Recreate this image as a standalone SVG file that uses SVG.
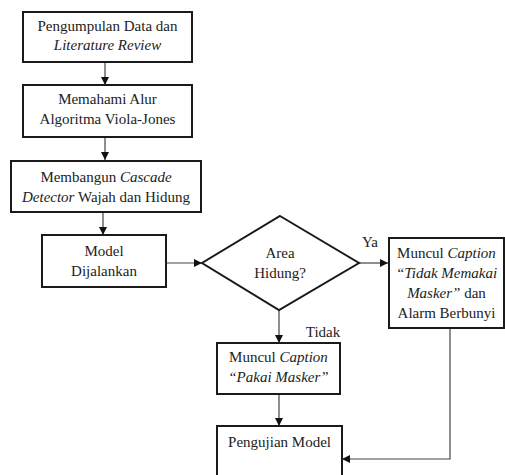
<svg xmlns="http://www.w3.org/2000/svg" width="505" height="475" viewBox="0 0 505 475">
<style>
.box{fill:#fff;stroke:#1a1a1a;stroke-width:2}
.c{fill:none;stroke:#444;stroke-width:1.2}
</style>
<defs>
<marker id="ah" viewBox="0 0 10 10" refX="10" refY="5" markerWidth="8" markerHeight="8" markerUnits="userSpaceOnUse" orient="auto">
<path d="M0,0 L10,5 L0,10 z" fill="#111"/>
</marker>
</defs>
<rect width="505" height="475" fill="#fff"/>
<g id="connectors">
<line class="c" x1="105" y1="62" x2="105" y2="85" marker-end="url(#ah)"/>
<line class="c" x1="105" y1="137" x2="105" y2="160" marker-end="url(#ah)"/>
<line class="c" x1="103" y1="212" x2="103" y2="235" marker-end="url(#ah)"/>
<line class="c" x1="166" y1="263" x2="202" y2="263" marker-end="url(#ah)"/>
<line class="c" x1="359" y1="263" x2="388" y2="263" marker-end="url(#ah)"/>
<line class="c" x1="279" y1="310" x2="279" y2="343" marker-end="url(#ah)"/>
<line class="c" x1="279" y1="394" x2="279" y2="426" marker-end="url(#ah)"/>
<polyline class="c" points="450,328 450,459 342,459" marker-end="url(#ah)"/>
</g>
<g font-family="Liberation Serif, serif" font-size="15" fill="#222" text-anchor="middle">
<g id="n1">
<rect class="box" x="23" y="12" width="169" height="50"/>
<text x="107.5" y="31">Pengumpulan Data dan</text>
<text x="107.5" y="50" font-style="italic">Literature Review</text>
</g>
<g id="n2">
<rect class="box" x="23" y="85" width="169" height="52"/>
<text x="107.5" y="104">Memahami Alur</text>
<text x="107.5" y="124">Algoritma Viola-Jones</text>
</g>
<g id="n3">
<rect class="box" x="11" y="161" width="190" height="51"/>
<text x="106" y="182">Membangun <tspan font-style="italic">Cascade</tspan></text>
<text x="106" y="202"><tspan font-style="italic">Detector</tspan> Wajah dan Hidung</text>
</g>
<g id="n4">
<rect class="box" x="42" y="235" width="124" height="52"/>
<text x="104" y="256">Model</text>
<text x="104" y="276">Dijalankan</text>
</g>
<g id="n5">
<polygon class="box" points="280,216 359,263 279,310 202,263"/>
<text x="280" y="258">Area</text>
<text x="280" y="278">Hidung?</text>
</g>
<text x="370" y="247">Ya</text>
<text x="323" y="337">Tidak</text>
<g id="n6">
<rect class="box" x="389" y="238" width="115" height="90"/>
<text x="446.5" y="258">Muncul <tspan font-style="italic">Caption</tspan></text>
<text x="446.5" y="278" font-style="italic">“Tidak Memakai</text>
<text x="446.5" y="298"><tspan font-style="italic">Masker”</tspan> dan</text>
<text x="446.5" y="318">Alarm Berbunyi</text>
</g>
<g id="n7">
<rect class="box" x="217" y="343" width="123" height="51"/>
<text x="278.5" y="362">Muncul <tspan font-style="italic">Caption</tspan></text>
<text x="278.5" y="382" font-style="italic">“Pakai Masker”</text>
</g>
<g id="n8">
<rect class="box" x="217" y="426" width="125" height="60"/>
<text x="279.5" y="447">Pengujian Model</text>
</g>
</g>
</svg>
